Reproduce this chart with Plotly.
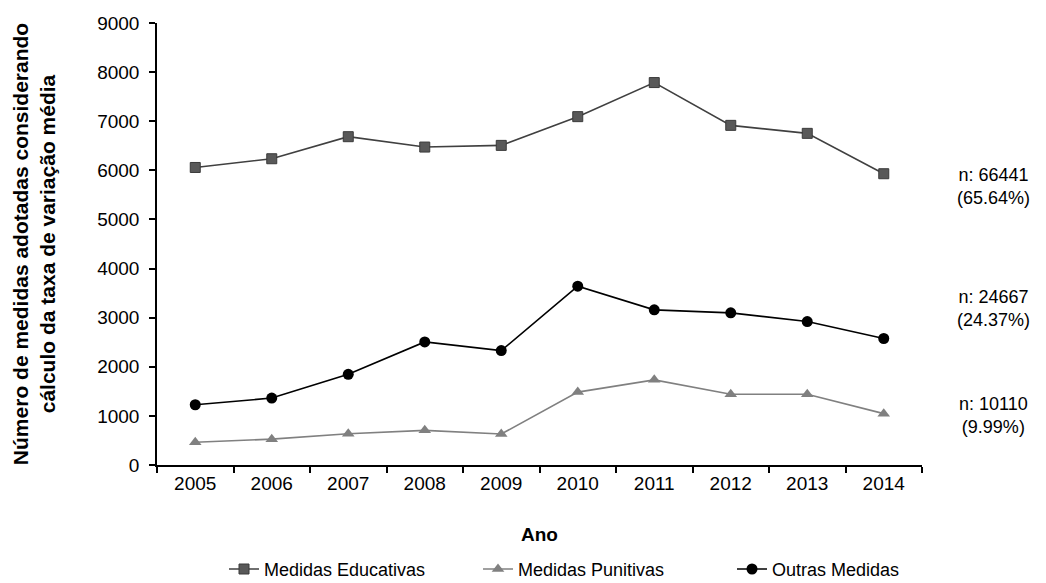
import plotly.graph_objects as go

anos = ["2005", "2006", "2007", "2008", "2009", "2010", "2011", "2012", "2013", "2014"]
educativas = [6058, 6236, 6685, 6474, 6508, 7093, 7787, 6916, 6753, 5931]
punitivas = [463, 526, 637, 706, 630, 1484, 1734, 1442, 1442, 1046]
outras = [1227, 1363, 1846, 2506, 2329, 3642, 3159, 3098, 2921, 2576]

# total labels shown to the right of each series: (count, share, y position)
totais = [("n: 66441", "(65.64%)", 5680), ("n: 24667", "(24.37%)", 3180), ("n: 10110", "(9.99%)", 1000)]

FONT = "Liberation Sans, Arial, sans-serif"

fig = go.Figure()
fig.add_trace(go.Scatter(
    x=anos, y=educativas, name="Medidas Educativas", mode="lines+markers",
    line=dict(color="#404040", width=1.6),
    marker=dict(symbol="square", size=10, color="#595959", line=dict(color="#3a3a3a", width=1)),
))
fig.add_trace(go.Scatter(
    x=anos, y=punitivas, name="Medidas Punitivas", mode="lines+markers",
    line=dict(color="#808080", width=1.6),
    marker=dict(symbol="triangle-up", size=11, color="#808080"),
))
fig.add_trace(go.Scatter(
    x=anos, y=outras, name="Outras Medidas", mode="lines+markers",
    line=dict(color="#000000", width=1.6),
    marker=dict(symbol="circle", size=11, color="#000000"),
))

for linha1, linha2, ypos in totais:
    fig.add_annotation(
        xref="paper", yref="y", x=1.093, y=ypos, xanchor="center", yanchor="middle",
        text=f"{linha1}<br>{linha2}", showarrow=False, align="center",
        font=dict(family=FONT, size=18, color="#000000"),
    )

fig.update_layout(
    width=1046, height=583,
    margin=dict(l=157, r=124, t=23, b=118, autoexpand=False),
    paper_bgcolor="white", plot_bgcolor="white",
    font=dict(family=FONT, size=19, color="#000000"),
    legend=dict(
        orientation="h", x=0.0876, xanchor="left", y=-0.236, yanchor="middle",
        font=dict(family=FONT, size=18, color="#000000"), itemwidth=30,
        entrywidth=209, entrywidthmode="pixels",
    ),
    xaxis=dict(
        type="category", range=[-0.5, 9.5],
        showline=True, linecolor="#000000", linewidth=1.5,
        ticks="outside", tickson="boundaries", ticklen=6, tickcolor="#000000", tickwidth=1.5,
        showgrid=False, zeroline=False, automargin=False,
        tickfont=dict(family=FONT, size=19),
        title=dict(text="<b>Ano</b>", font=dict(family=FONT, size=19), standoff=35),
    ),
    yaxis=dict(
        range=[0, 9000], dtick=1000,
        showline=True, linecolor="#000000", linewidth=1.5,
        ticks="outside", ticklen=6, tickcolor="#000000", tickwidth=1.5,
        ticklabelstandoff=6,
        showgrid=False, zeroline=False, automargin=False,
        tickfont=dict(family=FONT, size=19),
        title=dict(
            text="<b>Número de medidas adotadas considerando<br>cálculo da taxa de variação média</b>",
            font=dict(family=FONT, size=21), standoff=36,
        ),
    ),
)

fig.write_html("out.html")
